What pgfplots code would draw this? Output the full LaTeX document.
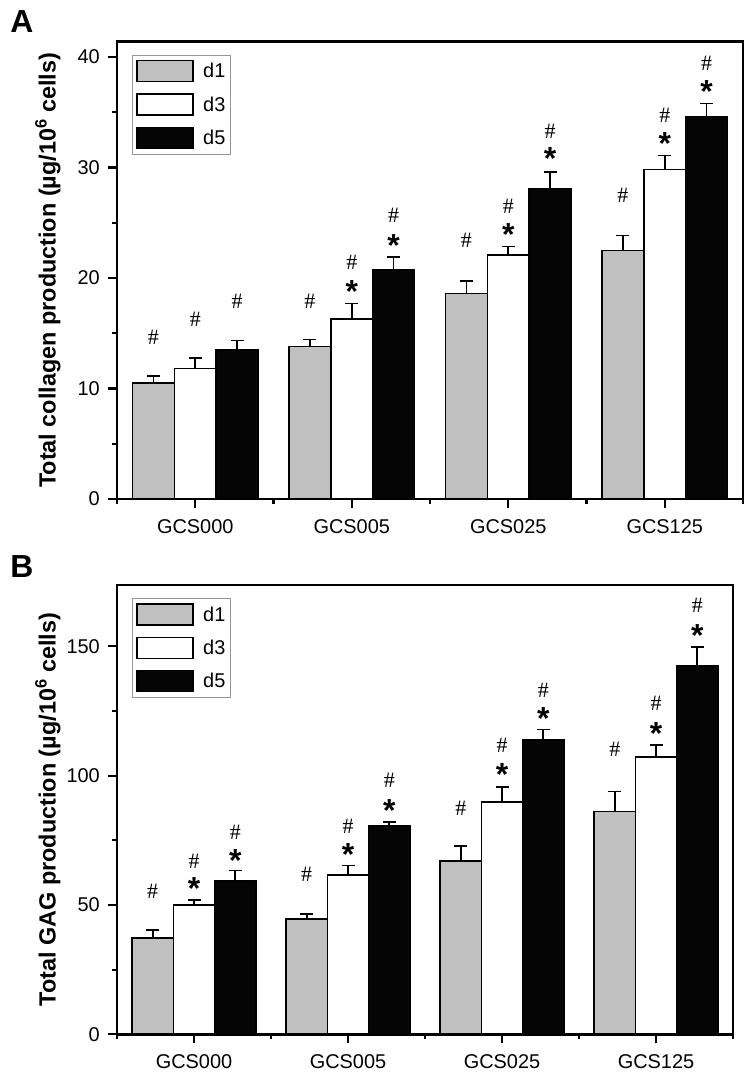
\documentclass[border=0pt]{standalone}
\usepackage{fontspec}
\setmainfont{Liberation Sans}
\newfontfamily\hashfont{Liberation Serif}
\usepackage{pgfplots}
\pgfplotsset{compat=1.18}

\definecolor{barGray}{RGB}{192,192,192}
\definecolor{barBlack}{RGB}{5,5,5}
\definecolor{legGray}{RGB}{150,150,150}

\newcommand{\tickfont}{\fontsize{20}{23}\selectfont}

\tikzset{
  hash/.style={font=\hashfont\fontsize{22}{22}\selectfont, inner sep=0pt, anchor=center},
  star/.style={font=\fontsize{32}{32}\bfseries\selectfont, inner sep=0pt, anchor=base, yshift=-18bp},
}

\pgfplotsset{
  boxlegend/.style={legend image code/.code={\draw[##1, line width=1.3bp] (0bp,-10.5bp) rectangle (56bp,10.5bp);}},
  errs/.style={
    error bars/y dir=plus, error bars/y explicit,
    error bars/error bar style={line width=1.6bp, black},
    error bars/error mark options={rotate=90, line width=1.6bp, mark size=6.5bp, black},
  },
  panel/.style={
    scale only axis, axis on top,
    ybar, bar width=0.268,
    xmin=-0.5, xmax=3.5, ymin=0,
    xtick={0,1,2,3},
    xticklabels={GCS000,GCS005,GCS025,GCS125},
    minor xtick={-0.5,0.5,1.5,2.5,3.5},
    tick pos=left, tick align=outside,
    major tick length=9bp, minor tick length=5bp,
    every tick/.style={black, line width=2.2bp},
    axis line style={line width=2.5bp},
    /pgf/number format/assume math mode=true,
    ticklabel style={font=\tickfont},
    xticklabel style={anchor=north, inner sep=0pt, yshift=-11bp},
    yticklabel style={anchor=east, inner sep=0pt, xshift=-8bp},
    every axis y label/.style={at={(axis description cs:0,0.5)}, rotate=90, anchor=center, yshift=69bp,
      font=\fontsize{23.5}{26}\bfseries\selectfont},
    legend style={
      at={(axis description cs:0,1)}, anchor=north west, xshift=15bp, yshift=-13bp,
      draw=legGray, line width=0.8bp,
      inner xsep=4bp, inner ysep=5bp, row sep=11bp,
      font=\tickfont,
      nodes={inner sep=1.5bp},
      /tikz/every odd column/.style={column sep=8bp},
    },
    legend cell align=left,
  },
}

\begin{document}
\begin{tikzpicture}
\useasboundingbox (0,0) rectangle (756bp,-1079bp);

\node[font=\fontsize{32}{32}\bfseries\selectfont] at (22bp,-22bp) {A};
\node[font=\fontsize{32}{32}\bfseries\selectfont] at (22bp,-567bp) {B};

% Panel A: total collagen
\begin{axis}[panel,
  at={(117bp,-41.7bp)}, anchor=north west,
  width=626bp, height=457.3bp,
  ymax=41.38,
  ytick={0,10,20,30,40}, minor ytick={5,15,25,35},
  ylabel={Total collagen production (µg/10\textsuperscript{6} cells)},
]
\addplot[boxlegend, errs, bar shift=-0.268, fill=barGray, draw=black, line width=1.5bp]
  coordinates {(0,10.5) +- (0,0.65) (1,13.8) +- (0,0.62) (2,18.6) +- (0,1.15) (3,22.5) +- (0,1.35)};
\addlegendentry{d1}
\addplot[boxlegend, errs, bar shift=0, fill=white, draw=black, line width=1.5bp]
  coordinates {(0,11.8) +- (0,0.95) (1,16.3) +- (0,1.4) (2,22.1) +- (0,0.75) (3,29.8) +- (0,1.3)};
\addlegendentry{d3}
\addplot[boxlegend, errs, bar shift=0.268, fill=barBlack, draw=black, line width=1.5bp]
  coordinates {(0,13.5) +- (0,0.85) (1,20.7) +- (0,1.2) (2,28.1) +- (0,1.5) (3,34.6) +- (0,1.2)};
\addlegendentry{d5}

\node[hash] at (axis cs:-0.268,14.66) {\#};
\node[hash] at (axis cs:0,16.3) {\#};
\node[hash] at (axis cs:0.268,17.86) {\#};
\node[hash] at (axis cs:0.732,17.86) {\#};
\node[star] at (axis cs:1,19.4) {*};
\node[hash] at (axis cs:1,21.4) {\#};
\node[star] at (axis cs:1.268,23.6) {*};
\node[hash] at (axis cs:1.268,25.7) {\#};
\node[hash] at (axis cs:1.732,23.4) {\#};
\node[star] at (axis cs:2,24.55) {*};
\node[hash] at (axis cs:2,26.5) {\#};
\node[star] at (axis cs:2.268,31.4) {*};
\node[hash] at (axis cs:2.268,33.3) {\#};
\node[hash] at (axis cs:2.732,27.5) {\#};
\node[star] at (axis cs:3,32.8) {*};
\node[hash] at (axis cs:3,34.75) {\#};
\node[star] at (axis cs:3.268,37.55) {*};
\node[hash] at (axis cs:3.268,39.4) {\#};
\end{axis}

% Panel B: total GAG
\begin{axis}[panel,
  at={(117bp,-585bp)}, anchor=north west,
  width=616bp, height=449.3bp,
  ymax=173.7,
  ytick={0,50,100,150}, minor ytick={25,75,125},
  ylabel={Total GAG production (µg/10\textsuperscript{6} cells)},
]
\addplot[boxlegend, errs, bar shift=-0.268, fill=barGray, draw=black, line width=1.5bp]
  coordinates {(0,37.3) +- (0,3.0) (1,44.6) +- (0,2.0) (2,67.0) +- (0,5.9) (3,86.1) +- (0,7.7)};
\addlegendentry{d1}
\addplot[boxlegend, errs, bar shift=0, fill=white, draw=black, line width=1.5bp]
  coordinates {(0,49.9) +- (0,2.0) (1,61.5) +- (0,3.8) (2,89.9) +- (0,5.8) (3,107.3) +- (0,4.5)};
\addlegendentry{d3}
\addplot[boxlegend, errs, bar shift=0.268, fill=barBlack, draw=black, line width=1.5bp]
  coordinates {(0,59.3) +- (0,4.1) (1,80.5) +- (0,1.5) (2,113.8) +- (0,4.1) (3,142.4) +- (0,7.4)};
\addlegendentry{d5}

\node[hash] at (axis cs:-0.268,55.1) {\#};
\node[star] at (axis cs:0,59.0) {*};
\node[hash] at (axis cs:0,66.7) {\#};
\node[star] at (axis cs:0.268,70.0) {*};
\node[hash] at (axis cs:0.268,78.1) {\#};
\node[hash] at (axis cs:0.732,62.0) {\#};
\node[star] at (axis cs:1,72.1) {*};
\node[hash] at (axis cs:1,80.5) {\#};
\node[star] at (axis cs:1.268,89.4) {*};
\node[hash] at (axis cs:1.268,98.3) {\#};
\node[hash] at (axis cs:1.732,87.2) {\#};
\node[star] at (axis cs:2,103.0) {*};
\node[hash] at (axis cs:2,111.9) {\#};
\node[star] at (axis cs:2.268,124.7) {*};
\node[hash] at (axis cs:2.268,133.1) {\#};
\node[hash] at (axis cs:2.732,110.0) {\#};
\node[star] at (axis cs:3,118.9) {*};
\node[hash] at (axis cs:3,127.9) {\#};
\node[star] at (axis cs:3.268,156.9) {*};
\node[hash] at (axis cs:3.268,165.9) {\#};
\end{axis}
\end{tikzpicture}
\end{document}
